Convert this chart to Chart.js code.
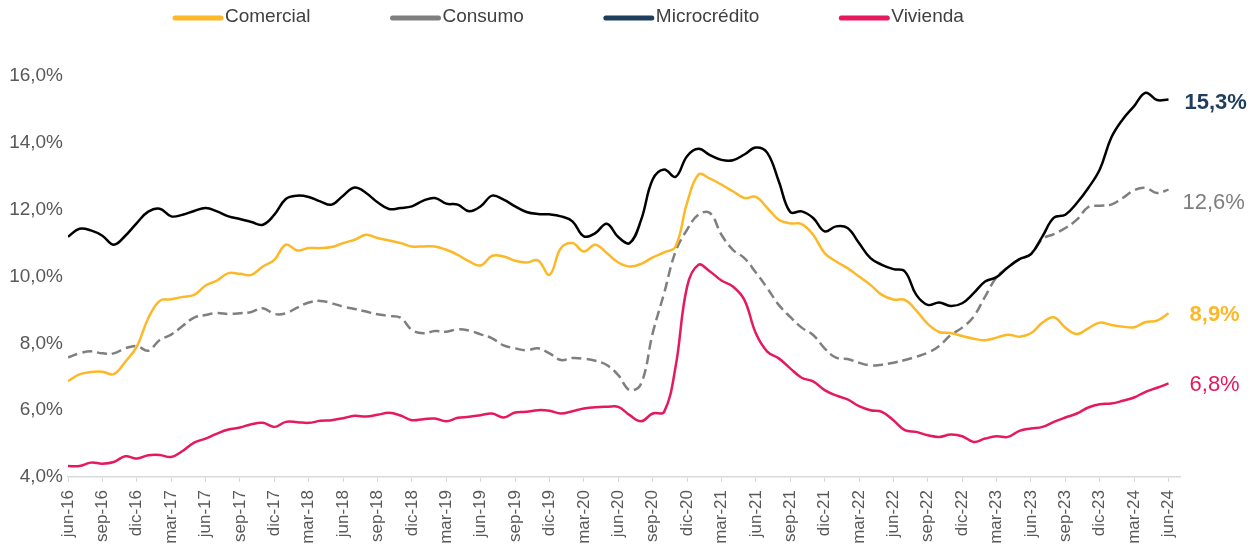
<!DOCTYPE html>
<html>
<head>
<meta charset="utf-8">
<script src="https://cdn.jsdelivr.net/npm/chart.js@4.4.1/dist/chart.umd.min.js"></script>
<style>
  html, body { margin: 0; padding: 0; background: #fff; }
</style>
</head>
<body>
<canvas id="tasasChart" width="1258" height="550"></canvas>
<script>
// meses jun-16 .. jun-24
const monthNames = ["ene", "feb", "mar", "abr", "may", "jun", "jul", "ago", "sep", "oct", "nov", "dic"];
const months = [];
for (let i = 0; i < 97; i++) {
    const m = 5 + i;
    months.push(monthNames[m % 12] + "-" + (16 + Math.floor(m / 12)));
}

const seriesNames = ["Comercial", "Consumo", "Microcrédito", "Vivienda"];

const comercial = [
    6.87, 7.07, 7.14, 7.15, 7.08, 7.45, 7.90, 8.75, 9.27, 9.32,
    9.39, 9.45, 9.73, 9.88, 10.10, 10.08, 10.05, 10.30, 10.50, 10.95,
    10.78, 10.85, 10.85, 10.88, 11.00, 11.10, 11.25, 11.15, 11.08, 11.00,
    10.90, 10.90, 10.90, 10.80, 10.65, 10.45, 10.33, 10.62, 10.60, 10.47,
    10.42, 10.48, 10.05, 10.85, 11.00, 10.75, 10.95, 10.70, 10.42, 10.30,
    10.38, 10.57, 10.72, 10.90, 12.20, 13.05, 12.93, 12.75, 12.55, 12.35,
    12.38, 12.05, 11.70, 11.59, 11.57, 11.25, 10.70, 10.45, 10.25, 10.00,
    9.75, 9.45, 9.31, 9.30, 8.98, 8.58, 8.34, 8.31, 8.22, 8.14,
    8.09, 8.17, 8.26, 8.20, 8.30, 8.62, 8.78, 8.47, 8.28, 8.45,
    8.62, 8.55, 8.50, 8.48, 8.64, 8.68, 8.90
];

const consumo = [
    7.58, 7.70, 7.76, 7.70, 7.70, 7.85, 7.92, 7.78, 8.10, 8.26,
    8.52, 8.77, 8.85, 8.91, 8.88, 8.90, 8.94, 9.05, 8.88, 8.90,
    9.07, 9.22, 9.27, 9.20, 9.10, 9.03, 8.95, 8.87, 8.82, 8.77,
    8.40, 8.30, 8.37, 8.35, 8.42, 8.38, 8.27, 8.15, 7.94, 7.85,
    7.79, 7.85, 7.70, 7.50, 7.56, 7.54, 7.48, 7.35, 7.05, 6.60,
    6.80, 8.30, 9.50, 10.75, 11.40, 11.85, 11.90, 11.25, 10.80, 10.55,
    10.12, 9.65, 9.15, 8.79, 8.47, 8.25, 7.85, 7.57, 7.53, 7.42,
    7.34, 7.36, 7.42, 7.50, 7.60, 7.72, 7.92, 8.25, 8.47, 8.80,
    9.40, 9.98, 10.28, 10.52, 10.67, 11.12, 11.27, 11.45, 11.70, 12.08,
    12.12, 12.15, 12.35, 12.58, 12.65, 12.50, 12.60
];

const microcredito = [
    11.19, 11.43, 11.38, 11.22, 10.95, 11.22, 11.60, 11.94, 12.03, 11.80,
    11.85, 11.96, 12.05, 11.95, 11.80, 11.72, 11.63, 11.55, 11.85, 12.32,
    12.42, 12.38, 12.25, 12.15, 12.42, 12.66, 12.50, 12.22, 12.02, 12.05,
    12.10, 12.27, 12.35, 12.18, 12.15, 11.95, 12.10, 12.42, 12.30, 12.10,
    11.93, 11.87, 11.86, 11.80, 11.65, 11.20, 11.30, 11.58, 11.18, 11.00,
    11.70, 12.90, 13.20, 12.98, 13.60, 13.82, 13.63, 13.49, 13.48, 13.65,
    13.86, 13.70, 12.85, 11.93, 11.95, 11.75, 11.35, 11.50, 11.45, 11.00,
    10.55, 10.35, 10.22, 10.15, 9.45, 9.15, 9.22, 9.12, 9.20, 9.50,
    9.85, 9.98, 10.28, 10.52, 10.67, 11.20, 11.76, 11.85, 12.20, 12.65,
    13.20, 14.15, 14.70, 15.10, 15.50, 15.28, 15.30
];

const vivienda = [
    4.33, 4.33, 4.43, 4.40, 4.45, 4.62, 4.55, 4.65, 4.66, 4.60,
    4.78, 5.03, 5.15, 5.30, 5.42, 5.48, 5.58, 5.62, 5.50, 5.65,
    5.64, 5.62, 5.68, 5.70, 5.76, 5.83, 5.81, 5.86, 5.92, 5.84,
    5.70, 5.73, 5.75, 5.67, 5.77, 5.80, 5.85, 5.90, 5.78, 5.93,
    5.95, 6.00, 5.98, 5.90, 5.97, 6.05, 6.09, 6.10, 6.10, 5.85,
    5.67, 5.90, 5.95, 7.30, 9.69, 10.35, 10.15, 9.88, 9.70, 9.30,
    8.30, 7.75, 7.55, 7.25, 6.97, 6.86, 6.60, 6.44, 6.32, 6.12,
    6.00, 5.95, 5.70, 5.40, 5.35, 5.25, 5.20, 5.27, 5.22, 5.05,
    5.15, 5.22, 5.20, 5.38, 5.45, 5.50, 5.65, 5.78, 5.90, 6.08,
    6.18, 6.20, 6.28, 6.38, 6.55, 6.67, 6.80
];

const endLabels = ["8,9%", "12,6%", "15,3%", "6,8%"];

const lineColors = ["#FDB827", "#7F7F7F", "#000000", "#E5195C"];
const legendColors = ["#FDB827", "#7F7F7F", "#1F3E5E", "#E5195C"];
const labelColors = ["#FDB827", "#7F7F7F", "#1F3E5E", "#E5195C"];
const labelBold = [true, false, true, false];
const labelDx = [21, 14, 16, 21];
const labelDy = [2, 13, 4, 2];

const FONT = '"Liberation Sans", Arial, sans-serif';
Chart.defaults.font.family = FONT;

function toPoints(values) {
    return values.map((v, i) => ({ x: i, y: v }));
}

// leyenda dibujada a mano: muestra de línea + texto
const legendPlugin = {
    id: "leyendaSuperior",
    afterDraw(chart) {
        const ctx = chart.ctx;
        ctx.save();
        ctx.font = "19px " + FONT;
        ctx.textBaseline = "middle";
        let x = 173;
        seriesNames.forEach((name, i) => {
            ctx.strokeStyle = legendColors[i];
            ctx.lineWidth = 5;
            ctx.lineCap = "round";
            ctx.beginPath();
            ctx.moveTo(x + 2, 18);
            ctx.lineTo(x + 48, 18);
            ctx.stroke();
            ctx.fillStyle = "#404040";
            ctx.fillText(name, x + 52, 17);
            x += 52 + ctx.measureText(name).width + 80;
        });
        ctx.restore();
    }
};

// etiqueta con el último valor al final de cada serie
const endLabelPlugin = {
    id: "ultimoValor",
    afterDatasetsDraw(chart) {
        const ctx = chart.ctx;
        ctx.save();
        ctx.textBaseline = "middle";
        ctx.textAlign = "left";
        chart.data.datasets.forEach((ds, i) => {
            const meta = chart.getDatasetMeta(i);
            const pt = meta.data[meta.data.length - 1];
            ctx.font = (labelBold[i] ? "bold " : "") + "22px " + FONT;
            ctx.fillStyle = labelColors[i];
            ctx.fillText(endLabels[i], pt.x + labelDx[i], pt.y + labelDy[i]);
        });
        ctx.restore();
    }
};

const datasets = [
    { label: seriesNames[0], data: toPoints(comercial), borderColor: lineColors[0], order: 1 },
    { label: seriesNames[1], data: toPoints(consumo), borderColor: lineColors[1], borderDash: [10, 5], order: 3 },
    { label: seriesNames[2], data: toPoints(microcredito), borderColor: lineColors[2], order: 0 },
    { label: seriesNames[3], data: toPoints(vivienda), borderColor: lineColors[3], order: 2 }
].map(d => Object.assign(d, {
    borderWidth: 2.5,
    pointRadius: 0,
    tension: 0.4,
    fill: false
}));

new Chart(document.getElementById("tasasChart"), {
    type: "line",
    data: { datasets: datasets },
    options: {
        responsive: false,
        animation: false,
        layout: { padding: { top: 76, right: 78, left: 0, bottom: 0 } },
        plugins: {
            legend: { display: false },
            tooltip: { enabled: false }
        },
        scales: {
            x: {
                type: "linear",
                min: 0,
                max: 97,
                afterFit: scale => { scale.height = 73; },
                border: { display: true, color: "#D9D9D9", width: 1.5 },
                grid: {
                    display: true,
                    drawOnChartArea: false,
                    drawTicks: true,
                    tickLength: 5,
                    color: "#D9D9D9"
                },
                ticks: {
                    stepSize: 3,
                    includeBounds: false,
                    autoSkip: false,
                    maxRotation: 90,
                    minRotation: 90,
                    padding: 8,
                    color: "#595959",
                    font: { size: 17 },
                    callback: v => months[v]
                }
            },
            y: {
                min: 4,
                max: 16,
                afterFit: scale => { scale.width = 68; },
                border: { display: false },
                grid: { display: false, drawTicks: false },
                ticks: {
                    stepSize: 2,
                    padding: 5,
                    color: "#595959",
                    font: { size: 19 },
                    callback: v => v.toFixed(1).replace(".", ",") + "%"
                }
            }
        }
    },
    plugins: [legendPlugin, endLabelPlugin]
});
</script>
</body>
</html>
